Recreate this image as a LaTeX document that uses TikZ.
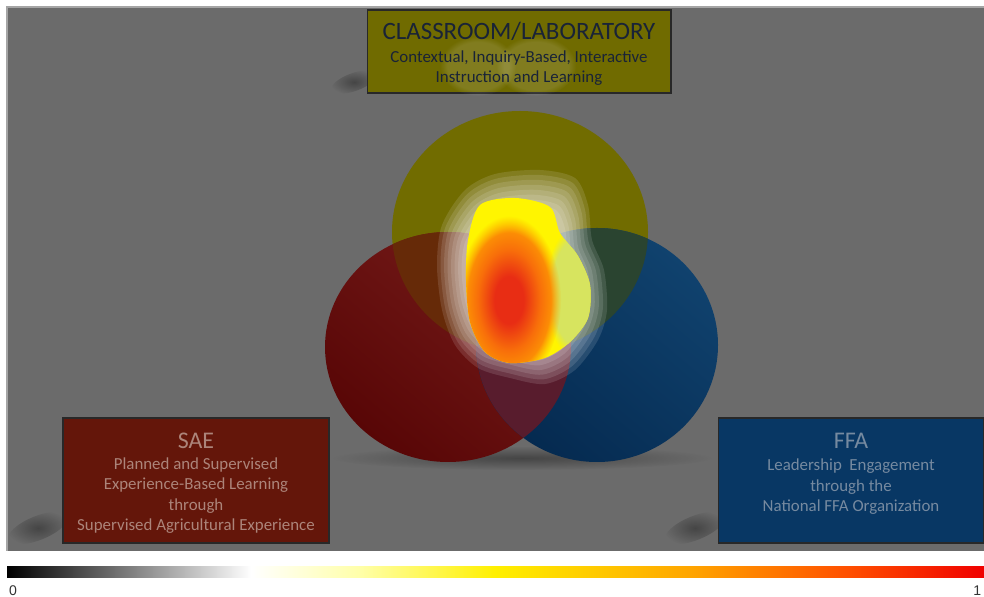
\documentclass[tikz,border=0pt]{standalone}
\usepackage{fontspec}
\setmainfont{Carlito}
\newfontfamily\barfont{Liberation Sans}
\usetikzlibrary{positioning,fadings}

% panel and boxes
\definecolor{panelgray}{RGB}{107,107,107}
\definecolor{paneledge}{RGB}{165,165,165}
\definecolor{boxedge}{RGB}{40,40,40}
\definecolor{classolive}{RGB}{112,107,0}
\definecolor{classtext}{RGB}{25,35,55}
\definecolor{saered}{RGB}{100,22,10}
\definecolor{saetext}{RGB}{172,132,122}
\definecolor{ffablue}{RGB}{8,55,100}
\definecolor{ffatext}{RGB}{118,138,160}
% circles and overlaps
\definecolor{circyellow}{RGB}{113,108,0}
\definecolor{circred}{RGB}{118,28,26}
\definecolor{circreddark}{RGB}{88,6,6}
\definecolor{circblue}{RGB}{16,66,110}
\definecolor{circbluedark}{RGB}{5,42,80}
\definecolor{ovYR}{RGB}{102,42,8}
\definecolor{ovYB}{RGB}{42,68,48}
\definecolor{ovRB}{RGB}{88,28,45}
\definecolor{ovYRB}{RGB}{95,50,35}
% heat colours
\definecolor{heatyellow}{RGB}{255,245,0}
\definecolor{heatlime}{RGB}{215,228,95}
\definecolor{heatamber}{RGB}{255,170,0}
\definecolor{heatorange}{RGB}{248,110,10}
\definecolor{heatred}{RGB}{232,45,20}
\definecolor{scalegray}{RGB}{120,120,120}
\definecolor{scalepale}{RGB}{255,255,170}
\definecolor{scaleyellow}{RGB}{255,240,0}
\definecolor{scaleorange}{RGB}{255,165,0}
\definecolor{scalered1}{RGB}{255,80,0}
\definecolor{scalered}{RGB}{240,0,0}

\pgfdeclarehorizontalshading{heatscale}{100bp}{color(0bp)=(black); color(25bp)=(black); color(31bp)=(scalegray); color(37.5bp)=(white); color(43bp)=(scalepale); color(50bp)=(scaleyellow); color(60bp)=(scaleorange); color(68bp)=(scalered1); color(75bp)=(scalered); color(100bp)=(scalered)}
\pgfdeclareradialshading{heatcore}{\pgfpoint{0bp}{0bp}}{color(0bp)=(heatred); color(7bp)=(heatred); color(15bp)=(heatorange); color(25bp)=(heatamber); color(50bp)=(heatamber)}
\tikzfading[name=softspot, inner color=transparent!0, outer color=transparent!100]

\begin{document}
\begin{tikzpicture}[x=0.02cm, y=-0.02cm,
    labelbox/.style={rectangle, draw=boxedge, line width=0.6pt, inner sep=0pt, minimum width=5.32cm, minimum height=2.5cm},
    headtext/.style={font=\fontsize{13.6}{16}\selectfont, inner sep=0pt},
    bodytext/.style={font=\fontsize{9.6}{11.6}\selectfont, align=center, inner sep=0pt},
    fuzzy/.style={path fading=circle with fuzzy edge 20 percent},
    softshadow/.style={fill=black, fill opacity=0.35, path fading=softspot},
    halo/.style={fill=white, fill opacity=0.12},
    scalelabel/.style={font=\barfont\fontsize{8}{9}\selectfont, text=black!80, inner sep=0pt}
]
\useasboundingbox (0,0) rectangle (984,597);

% Page and grey panel
\fill[white] (0,0) rectangle (984,597);
\fill[panelgray] (7,7) rectangle (984,551);
\draw[paneledge, line width=0.8pt] (7,551) -- (7,7) -- (984,7);

\coordinate (yc) at (520,232);
\coordinate (rc) at (448,347);
\coordinate (bc) at (597,345);

% Shadows
\fill[softshadow] (522,458) ellipse (190 and 12);
\fill[softshadow, rotate around={20:(354,82)}] (354,82) ellipse (24 and 9);
\fill[softshadow, rotate around={22:(38,528)}] (38,528) ellipse (32 and 12);
\fill[softshadow, rotate around={22:(695,528)}] (695,528) ellipse (32 and 12);

% Circles
\fill[circyellow] (yc) ellipse (128 and 121);
\shade[top color=circred, bottom color=circreddark, shading angle=-40] (rc) ellipse (123 and 115);
\shade[top color=circblue, bottom color=circbluedark, shading angle=-40] (bc) ellipse (121 and 117);

% Overlaps
\begin{scope}
  \clip (rc) ellipse (123 and 115);
  \fill[ovYR] (yc) ellipse (128 and 121);
\end{scope}
\begin{scope}
  \clip (bc) ellipse (121 and 117);
  \fill[ovYB] (yc) ellipse (128 and 121);
  \fill[ovRB] (rc) ellipse (123 and 115);
  \clip (rc) ellipse (123 and 115);
  \fill[ovYRB] (yc) ellipse (128 and 121);
\end{scope}

% Heat halo
\foreach \k [evaluate=\k as \s using 1-0.045*\k] in {0,...,7}
  \fill[halo, shift={(515,280)}, scale=\s, shift={(-515,-280)}]
    plot[smooth cycle] coordinates {(465,190) (495,174) (540,170) (575,178) (588,205) (592,240) (604,270) (607,310) (598,340) (575,370) (545,384) (510,378) (478,368) (455,345) (442,310) (437,265) (442,225)};

% Heat core
\begin{scope}
  \clip plot[smooth cycle] coordinates {(480,205) (515,198) (550,207) (560,233) (578,256) (590,285) (588,318) (570,342) (545,358) (510,363) (485,352) (470,322) (466,280) (468,240)};
  \fill[heatyellow] (440,180) rectangle (610,380);
  \fill[heatlime, fuzzy] (577,292) ellipse (32 and 66);
  \shade[shading=heatcore, fuzzy] (509,300) ellipse (52 and 84);
\end{scope}

% Classroom box
\node[labelbox, fill=classolive, minimum width=6.08cm, minimum height=1.66cm] (classroom) at (519,51.5) {};
\fill[white, fill opacity=0.12, fuzzy] (478,66) ellipse (38 and 30);
\fill[white, fill opacity=0.12, fuzzy] (536,66) ellipse (40 and 30);
\node[headtext, font=\fontsize{14.2}{16}\selectfont, text=classtext, below=7.2pt of classroom.north] (classhead) {CLASSROOM/LABORATORY};
\node[bodytext, text=classtext, below=5.2pt of classhead] (classbody) {Contextual, Inquiry-Based, Interactive\\Instruction and Learning};

% SAE box
\node[labelbox, fill=saered] (sae) at (196,480.5) {};
\node[headtext, text=saetext, below=8.5pt of sae.north] (saehead) {SAE};
\node[bodytext, text=saetext, below=4.8pt of saehead] (saebody) {Planned and Supervised\\Experience-Based Learning\\through\\Supervised Agricultural Experience};

% FFA box
\node[labelbox, fill=ffablue] (ffa) at (851,480.5) {};
\node[headtext, text=ffatext, below=9pt of ffa.north] (ffahead) {FFA};
\node[bodytext, text=ffatext, below=5.4pt of ffahead] (ffabody) {Leadership~ Engagement\\through the\\National FFA Organization};

% Colour scale
\node[shade, shading=heatscale, minimum width=19.54cm, minimum height=0.24cm, inner sep=0pt] (heatbar) at (495.5,572) {};
\node[scalelabel, below right=4pt and 1.2pt of heatbar.south west] (zero) {0};
\node[scalelabel, below left=4pt and 1.5pt of heatbar.south east] (one) {1};

\end{tikzpicture}
\end{document}
